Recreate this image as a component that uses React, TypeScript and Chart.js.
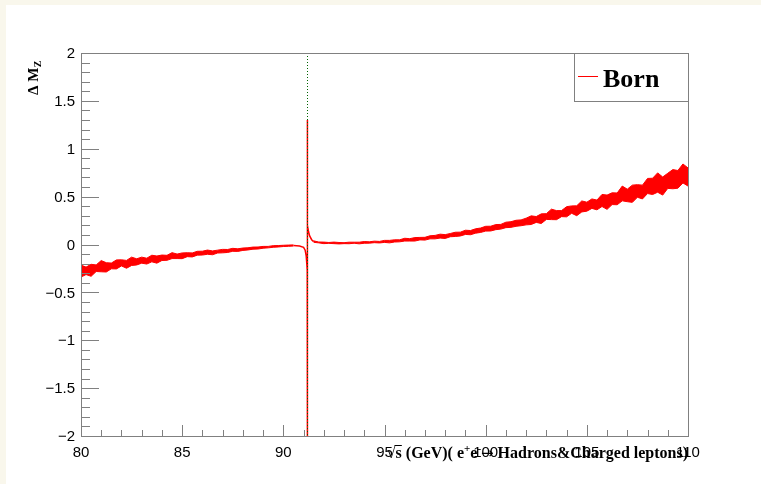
import React, { useEffect, useRef } from "react";
import { Chart, registerables } from "chart.js";
Chart.register(...registerables);

const xMin = 80;
const xMax = 110;
const yMin = -2;
const yMax = 2;
const xMajorTicks = [80, 85, 90, 95, 100, 105, 110];
const yMajorTicks = [-2, -1.5, -1, -0.5, 0, 0.5, 1, 1.5, 2];
const MZ = 91.1876;
const legendLabel = "Born";

// noisy band below the Z pole (upper / lower edges)
const leftX = [80, 80.25, 80.5, 80.75, 81, 81.25, 81.5, 81.75, 82, 82.25, 82.5, 82.75, 83, 83.25, 83.5, 83.75, 84, 84.25, 84.5, 84.75, 85, 85.25, 85.5, 85.75, 86, 86.25, 86.5, 86.75, 87, 87.25, 87.5, 87.75, 88, 88.25, 88.5, 88.75, 89, 89.25, 89.5, 89.75, 90, 90.25, 90.5];
const leftUpper = [-0.215, -0.236, -0.207, -0.213, -0.168, -0.19, -0.194, -0.161, -0.16, -0.166, -0.132, -0.149, -0.132, -0.143, -0.112, -0.12, -0.11, -0.113, -0.085, -0.1, -0.088, -0.086, -0.088, -0.071, -0.07, -0.058, -0.067, -0.059, -0.051, -0.052, -0.04, -0.045, -0.037, -0.034, -0.027, -0.026, -0.02, -0.02, -0.012, -0.011, -0.008, -0.006, -0.004];
const leftLower = [-0.34, -0.314, -0.332, -0.282, -0.285, -0.287, -0.254, -0.255, -0.224, -0.248, -0.219, -0.214, -0.195, -0.204, -0.181, -0.195, -0.167, -0.165, -0.147, -0.147, -0.148, -0.127, -0.13, -0.111, -0.11, -0.102, -0.107, -0.089, -0.087, -0.083, -0.071, -0.072, -0.062, -0.057, -0.049, -0.047, -0.039, -0.035, -0.029, -0.026, -0.021, -0.019, -0.016];

// noisy band above the Z pole
const rightX = [91.5, 91.75, 92, 92.25, 92.5, 92.75, 93, 93.25, 93.5, 93.75, 94, 94.25, 94.5, 94.75, 95, 95.25, 95.5, 95.75, 96, 96.25, 96.5, 96.75, 97, 97.25, 97.5, 97.75, 98, 98.25, 98.5, 98.75, 99, 99.25, 99.5, 99.75, 100, 100.25, 100.5, 100.75, 101, 101.25, 101.5, 101.75, 102, 102.25, 102.5, 102.75, 103, 103.25, 103.5, 103.75, 104, 104.25, 104.5, 104.75, 105, 105.25, 105.5, 105.75, 106, 106.25, 106.5, 106.75, 107, 107.25, 107.5, 107.75, 108, 108.25, 108.5, 108.75, 109, 109.25, 109.5, 109.75, 110];
const rightUpper = [0.038, 0.026, 0.025, 0.021, 0.025, 0.021, 0.019, 0.024, 0.024, 0.024, 0.031, 0.028, 0.035, 0.032, 0.043, 0.043, 0.049, 0.049, 0.065, 0.061, 0.072, 0.074, 0.075, 0.091, 0.095, 0.108, 0.103, 0.115, 0.128, 0.129, 0.149, 0.146, 0.164, 0.172, 0.19, 0.191, 0.208, 0.21, 0.233, 0.238, 0.253, 0.257, 0.275, 0.299, 0.292, 0.32, 0.322, 0.369, 0.354, 0.354, 0.395, 0.403, 0.404, 0.455, 0.442, 0.476, 0.464, 0.523, 0.516, 0.54, 0.538, 0.61, 0.578, 0.62, 0.625, 0.62, 0.69, 0.692, 0.748, 0.705, 0.744, 0.782, 0.773, 0.841, 0.8];
const rightLower = [0.023, 0.017, 0.009, 0.012, 0.009, 0.006, 0.009, 0.008, 0.013, 0.007, 0.013, 0.014, 0.019, 0.016, 0.022, 0.017, 0.026, 0.028, 0.036, 0.036, 0.036, 0.048, 0.046, 0.059, 0.059, 0.067, 0.063, 0.081, 0.084, 0.089, 0.105, 0.102, 0.118, 0.126, 0.14, 0.141, 0.155, 0.161, 0.176, 0.179, 0.19, 0.196, 0.205, 0.209, 0.231, 0.219, 0.262, 0.26, 0.259, 0.291, 0.289, 0.326, 0.301, 0.34, 0.348, 0.377, 0.362, 0.397, 0.367, 0.417, 0.415, 0.456, 0.447, 0.44, 0.493, 0.476, 0.532, 0.522, 0.546, 0.516, 0.586, 0.582, 0.588, 0.643, 0.61];

// resonance region
const peakX = [90.5, 90.8, 91.0, 91.08, 91.13, 91.16, 91.18, 91.186, 91.187, 91.188, 91.2, 91.25, 91.3, 91.4, 91.5];
const peakY = [-0.01, -0.015, -0.03, -0.06, -0.12, -0.2, -0.27, -2.2, 1.3, 0.35, 0.2, 0.13, 0.09, 0.05, 0.03];

const RED = "#ff0000";
const FRAME = "#808080";
const SANS = "'Liberation Sans', Arial, sans-serif";
const SERIF = "'Liberation Serif', 'Times New Roman', serif";

const pts = (xs: number[], ys: number[]) => xs.map((x, i) => ({ x, y: ys[i] }));

const fmt = (v: number) => {
  const s = String(Math.abs(v));
  return v < 0 ? "\u2212" + s : s;
};

const decorPlugin = {
  id: "decor",
  beforeDraw(chart: any) {
    const ctx = chart.ctx;
    ctx.save();
    ctx.fillStyle = "#f9f7ec";
    ctx.fillRect(0, 0, chart.width, chart.height);
    ctx.fillStyle = "#ffffff";
    ctx.fillRect(6, 5, chart.width - 6, chart.height - 5);
    ctx.restore();
  },
  afterDatasetsDraw(chart: any) {
    const ctx = chart.ctx;
    const { top, bottom } = chart.chartArea;
    const xs = chart.scales.x;
    const px = Math.round(xs.getPixelForValue(MZ)) + 0.5;
    ctx.save();
    ctx.strokeStyle = "#006400";
    ctx.lineWidth = 1;
    ctx.setLineDash([1, 2]);
    ctx.beginPath();
    ctx.moveTo(px, top);
    ctx.lineTo(px, bottom);
    ctx.stroke();
    ctx.restore();
  },
  afterDraw(chart: any) {
    const ctx = chart.ctx;
    const { left, right, top, bottom } = chart.chartArea;
    const xs = chart.scales.x;
    const ys = chart.scales.y;
    ctx.save();
    // frame
    ctx.strokeStyle = FRAME;
    ctx.lineWidth = 1;
    ctx.strokeRect(Math.round(left) + 0.5, Math.round(top) + 0.5, Math.round(right - left), Math.round(bottom - top));

    // y ticks (inside)
    for (let i = Math.round(yMin * 10); i <= Math.round(yMax * 10); i++) {
      const v = i / 10;
      const major = i % 5 === 0;
      const py = Math.round(ys.getPixelForValue(v)) + 0.5;
      ctx.beginPath();
      ctx.moveTo(left, py);
      ctx.lineTo(left + (major ? 18 : 9), py);
      ctx.stroke();
    }
    // x ticks (inside)
    for (let v = xMin; v <= xMax; v++) {
      const major = v % 5 === 0;
      const px = Math.round(xs.getPixelForValue(v)) + 0.5;
      ctx.beginPath();
      ctx.moveTo(px, bottom);
      ctx.lineTo(px, bottom - (major ? 11 : 6));
      ctx.stroke();
    }

    // tick labels
    ctx.fillStyle = "#000";
    ctx.font = `15px ${SANS}`;
    ctx.textAlign = "right";
    ctx.textBaseline = "middle";
    yMajorTicks.forEach((v) => {
      ctx.fillText(fmt(v), left - 6, ys.getPixelForValue(v) + 1);
    });
    ctx.textAlign = "center";
    ctx.textBaseline = "alphabetic";
    xMajorTicks.forEach((v) => {
      ctx.fillText(fmt(v), xs.getPixelForValue(v), bottom + 21);
    });

    // x title (right aligned)
    const big = `bold 16px ${SERIF}`;
    const small = `bold 11px ${SERIF}`;
    const arrowFont = `15px 'DejaVu Sans', sans-serif`;
    const parts: [string, string, number, boolean][] = [
      ["\u221A", big, 0, false],
      ["s", big, 0, true],
      [" (GeV)( e", big, 0, false],
      ["+", small, -6, false],
      ["e", big, 0, false],
      ["-", small, -6, false],
      ["\u2192", arrowFont, 0, false],
      [" Hadrons&Charged leptons)", big, 0, false],
    ];
    let total = 0;
    parts.forEach(([t, f]) => {
      ctx.font = f;
      total += ctx.measureText(t).width;
    });
    let cx = right - total;
    const base = bottom + 22;
    ctx.textAlign = "left";
    ctx.lineWidth = 1;
    ctx.strokeStyle = "#000";
    parts.forEach(([t, f, dy, bar]) => {
      ctx.font = f;
      const w = ctx.measureText(t).width;
      ctx.fillText(t, cx, base + dy);
      if (bar) {
        ctx.beginPath();
        ctx.moveTo(cx - 1, base - 12.5);
        ctx.lineTo(cx + w, base - 12.5);
        ctx.stroke();
      }
      cx += w;
    });

    // y title (rotated)
    ctx.save();
    ctx.translate(38, 95);
    ctx.rotate(-Math.PI / 2);
    ctx.font = `bold 15px ${SERIF}`;
    ctx.textAlign = "left";
    const t1 = "\u0394 M";
    ctx.fillText(t1, 0, 0);
    const w1 = ctx.measureText(t1).width;
    ctx.font = `bold 10px ${SERIF}`;
    ctx.fillText("Z", w1 + 0.5, 3);
    ctx.restore();

    // legend box
    const lx0 = 574.5;
    const ly0 = Math.round(top) + 0.5;
    const lx1 = Math.round(right) + 0.5;
    const ly1 = 101.5;
    ctx.fillStyle = "#fff";
    ctx.fillRect(lx0, ly0, lx1 - lx0, ly1 - ly0);
    ctx.strokeStyle = FRAME;
    ctx.strokeRect(lx0, ly0, lx1 - lx0, ly1 - ly0);
    ctx.strokeStyle = RED;
    ctx.lineWidth = 1;
    ctx.beginPath();
    ctx.moveTo(578, 76.5);
    ctx.lineTo(598, 76.5);
    ctx.stroke();
    ctx.fillStyle = "#000";
    ctx.font = `bold 26px ${SERIF}`;
    ctx.textBaseline = "alphabetic";
    ctx.fillText(legendLabel, 603, 87);
    ctx.restore();
  },
};

export default function App() {
  const ref = useRef<HTMLCanvasElement | null>(null);
  useEffect(() => {
    document.body.style.margin = "0";
    const canvas = ref.current!;
    const common = { pointRadius: 0, borderColor: RED, backgroundColor: RED, borderWidth: 1, tension: 0, clip: 0 };
    const chart = new Chart(canvas, {
      type: "line",
      data: {
        datasets: [
          { ...common, label: "bandLeftUpper", data: pts(leftX, leftUpper), fill: "+1" },
          { ...common, label: "bandLeftLower", data: pts(leftX, leftLower), fill: false },
          { ...common, label: "bandRightUpper", data: pts(rightX, rightUpper), fill: "+1" },
          { ...common, label: "bandRightLower", data: pts(rightX, rightLower), fill: false },
          { ...common, label: legendLabel, data: pts(peakX, peakY), fill: false, borderWidth: 1.5 },
        ] as any,
      },
      options: {
        responsive: false,
        animation: false,
        events: [],
        layout: { padding: { left: 81, right: 73, top: 53, bottom: 48 } },
        plugins: { legend: { display: false }, tooltip: { enabled: false }, filler: { propagate: false } },
        scales: {
          x: { type: "linear", min: xMin, max: xMax, display: false },
          y: { type: "linear", min: yMin, max: yMax, display: false },
        },
      } as any,
      plugins: [decorPlugin],
    });
    return () => chart.destroy();
  }, []);
  return <canvas ref={ref} width={761} height={484} style={{ display: "block" }} />;
}
